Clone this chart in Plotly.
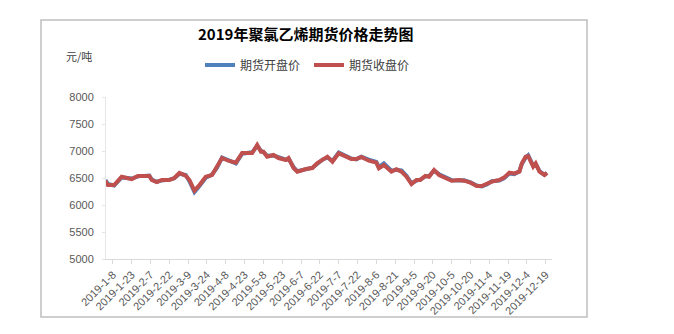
import plotly.graph_objects as go

dates = ["2019-01-02", "2019-01-04", "2019-01-09", "2019-01-15", "2019-01-23", "2019-01-28",
         "2019-02-06", "2019-02-08", "2019-02-12", "2019-02-16", "2019-02-22", "2019-02-26",
         "2019-03-02", "2019-03-07", "2019-03-10", "2019-03-14", "2019-03-18", "2019-03-23",
         "2019-03-28", "2019-04-01", "2019-04-05", "2019-04-10", "2019-04-16", "2019-04-21",
         "2019-04-29", "2019-05-03", "2019-05-06", "2019-05-08", "2019-05-11", "2019-05-16",
         "2019-05-20", "2019-05-26", "2019-05-28", "2019-06-01", "2019-06-04", "2019-06-11",
         "2019-06-16", "2019-06-20", "2019-06-24", "2019-06-28", "2019-07-02", "2019-07-07",
         "2019-07-13", "2019-07-17", "2019-07-21", "2019-07-25", "2019-07-31", "2019-08-06",
         "2019-08-08", "2019-08-12", "2019-08-18", "2019-08-22", "2019-08-26", "2019-08-30",
         "2019-09-03", "2019-09-07", "2019-09-10", "2019-09-14", "2019-09-17", "2019-09-21",
         "2019-09-25", "2019-09-29", "2019-10-05", "2019-10-11", "2019-10-15", "2019-10-20",
         "2019-10-25", "2019-10-29", "2019-11-02", "2019-11-06", "2019-11-12", "2019-11-16",
         "2019-11-20", "2019-11-24", "2019-11-28", "2019-11-30", "2019-12-03", "2019-12-05",
         "2019-12-09", "2019-12-11", "2019-12-14", "2019-12-18", "2019-12-20"]

close_price = [6450, 6370, 6370, 6524, 6480, 6537, 6537, 6463, 6426, 6463, 6463, 6500,
               6593, 6543, 6463, 6265, 6370, 6524, 6555, 6710, 6870, 6820, 6784, 6963,
               6963, 7111, 6987, 6987, 6895, 6926, 6870, 6833, 6870, 6685, 6617, 6667,
               6685, 6778, 6833, 6895, 6802, 6957, 6895, 6852, 6852, 6889, 6820, 6784,
               6680, 6741, 6617, 6661, 6617, 6524, 6389, 6463, 6463, 6537, 6524, 6648,
               6555, 6512, 6450, 6463, 6450, 6413, 6352, 6352, 6389, 6432, 6463, 6512,
               6598, 6586, 6617, 6772, 6895, 6907, 6710, 6772, 6617, 6555, 6598]

open_price = [6460, 6390, 6360, 6510, 6490, 6530, 6545, 6470, 6430, 6455, 6470, 6495,
              6580, 6555, 6440, 6240, 6350, 6505, 6560, 6690, 6880, 6830, 6770, 6950,
              6975, 7095, 7005, 6980, 6910, 6915, 6885, 6840, 6860, 6700, 6625, 6655,
              6690, 6765, 6840, 6880, 6815, 6970, 6905, 6860, 6845, 6895, 6840, 6800,
              6700, 6770, 6635, 6650, 6640, 6540, 6400, 6455, 6470, 6530, 6535, 6635,
              6570, 6520, 6460, 6455, 6460, 6420, 6360, 6345, 6380, 6440, 6455, 6500,
              6585, 6570, 6625, 6760, 6880, 6920, 6725, 6760, 6630, 6560, 6590]

tick_dates = ["2019-01-08", "2019-01-23", "2019-02-07", "2019-02-22", "2019-03-09", "2019-03-24",
              "2019-04-08", "2019-04-23", "2019-05-08", "2019-05-23", "2019-06-07", "2019-06-22",
              "2019-07-07", "2019-07-22", "2019-08-06", "2019-08-21", "2019-09-05", "2019-09-20",
              "2019-10-05", "2019-10-20", "2019-11-04", "2019-11-19", "2019-12-04", "2019-12-19"]
tick_labels = ["2019-1-8", "2019-1-23", "2019-2-7", "2019-2-22", "2019-3-9", "2019-3-24",
               "2019-4-8", "2019-4-23", "2019-5-8", "2019-5-23", "2019-6-7", "2019-6-22",
               "2019-7-7", "2019-7-22", "2019-8-6", "2019-8-21", "2019-9-5", "2019-9-20",
               "2019-10-5", "2019-10-20", "2019-11-4", "2019-11-19", "2019-12-4", "2019-12-19"]

series_names = ["期货开盘价", "期货收盘价"]
title_text = "2019年聚氯乙烯期货价格走势图"
unit_text = "元/吨"

FONT = "Liberation Sans, Arial, Noto Sans CJK SC, sans-serif"
CJK = "Noto Sans CJK SC, sans-serif"

fig = go.Figure()
fig.add_trace(go.Scatter(x=dates, y=open_price, name=series_names[0], mode="lines",
                         line=dict(color="#4f81bd", width=4)))
fig.add_trace(go.Scatter(x=dates, y=close_price, name=series_names[1], mode="lines",
                         line=dict(color="#c0504d", width=4)))

L, R, T, B = 106, 552, 97, 259
W, H = 674, 334
pw, ph = R - L, B - T

def px(x):
    return (x - L) / pw

def py(y):
    return (B - y) / ph

fig.update_layout(
    width=W, height=H,
    margin=dict(l=L, r=W - R, t=T, b=H - B, pad=0),
    paper_bgcolor="white", plot_bgcolor="white",
    font=dict(family=FONT, size=11, color="#404040"),
    showlegend=True,
    legend=dict(orientation="h", x=px(200), xanchor="left", y=py(65), yanchor="middle",
                font=dict(family=CJK, size=12, color="#404040"),
                itemwidth=30, traceorder="normal", bgcolor="rgba(0,0,0,0)",
                entrywidth=64, entrywidthmode="pixels", tracegroupgap=0),
    xaxis=dict(type="date", range=["2019-01-02 12:00", "2019-12-24"],
               tickmode="array", tickvals=tick_dates, ticktext=tick_labels,
               tickangle=-45, tickfont=dict(size=11, color="#595959"),
               showgrid=False, showline=True, linecolor="#d9d9d9", linewidth=1,
               ticks="outside", ticklen=4, tickcolor="#d9d9d9", zeroline=False),
    yaxis=dict(range=[5000, 8000], dtick=500, tickfont=dict(size=11, color="#595959"),
               showgrid=False, showline=True, linecolor="#e6e6e6", linewidth=1,
               ticks="outside", ticklen=3, tickcolor="#e6e6e6", zeroline=False,
               ticklabelstandoff=6),
    shapes=[dict(type="rect", xref="paper", yref="paper",
                 x0=px(41), x1=px(587), y0=py(317), y1=py(20),
                 line=dict(color="#bfbfbf", width=1.5), fillcolor="rgba(0,0,0,0)",
                 layer="below")],
    annotations=[
        dict(text="<b>" + title_text + "</b>", xref="paper", yref="paper",
             x=px(305), y=py(33), xanchor="center", yanchor="middle", showarrow=False,
             font=dict(family=CJK, size=15, color="#000000")),
        dict(text=unit_text, xref="paper", yref="paper", x=px(64), y=py(56),
             xanchor="left", yanchor="middle", showarrow=False,
             font=dict(family=CJK, size=11, color="#404040")),
    ],
)

fig.write_html("out.html")
